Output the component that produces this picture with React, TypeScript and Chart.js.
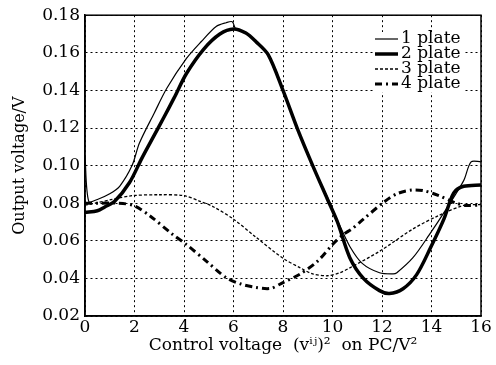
import React, { useEffect, useRef } from "react";
import { Chart, registerables } from "chart.js";

Chart.register(...registerables);

const FONT = "'DejaVu Serif', 'Liberation Serif', serif";

const seriesLabels = ["1 plate", "2 plate", "3 plate", "4 plate"];

const x1 = [0, 0.15, 0.5, 1.0, 1.4, 1.9, 2.2, 2.8, 3.3, 4.1, 4.7, 5.3, 5.7, 5.95, 6.1, 6.5, 6.9, 7.4, 8.0, 8.6, 9.2, 9.8, 10.3, 10.7, 11.2, 11.9, 12.45, 12.6, 13.25, 13.9, 14.6, 15.3, 15.6, 16];
const y1 = [0.105, 0.081, 0.082, 0.085, 0.089, 0.1, 0.112, 0.128, 0.141, 0.157, 0.166, 0.174, 0.176, 0.1765, 0.1725, 0.1705, 0.166, 0.159, 0.14, 0.119, 0.1, 0.083, 0.068, 0.057, 0.048, 0.043, 0.0424, 0.043, 0.051, 0.063, 0.077, 0.092, 0.102, 0.102];

const x2 = [0, 0.5, 0.8, 1.2, 1.8, 2.3, 2.75, 3.2, 3.6, 4.1, 4.8, 5.45, 6.0, 6.5, 6.9, 7.4, 8.0, 8.6, 9.2, 9.8, 10.2, 10.7, 11.25, 11.9, 12.3, 12.85, 13.4, 13.95, 14.5, 14.9, 15.3, 16];
const y2 = [0.075, 0.076, 0.078, 0.081, 0.091, 0.104, 0.115, 0.126, 0.136, 0.149, 0.162, 0.17, 0.1727, 0.1705, 0.166, 0.159, 0.14, 0.119, 0.1, 0.082, 0.07, 0.051, 0.04, 0.0335, 0.032, 0.0345, 0.042, 0.056, 0.0715, 0.0855, 0.089, 0.0897];

const x3 = [0, 0.4, 1.1, 1.9, 3.0, 4.0, 4.65, 5.2, 6.0, 6.9, 8.0, 8.7, 9.2, 9.8, 10.3, 10.7, 11.9, 13.25, 14.3, 15.3, 16];
const y3 = [0.079, 0.08, 0.082, 0.084, 0.0845, 0.084, 0.081, 0.078, 0.0715, 0.062, 0.0507, 0.0456, 0.0424, 0.0414, 0.043, 0.0456, 0.0544, 0.0663, 0.0735, 0.0788, 0.0793];

const x4 = [0, 0.5, 1.3, 1.95, 2.6, 3.56, 4.1, 4.9, 5.7, 6.3, 6.9, 7.5, 8.0, 8.7, 9.4, 10.0, 10.4, 10.8, 11.25, 12.05, 12.6, 13.2, 13.7, 14.3, 15.0, 15.4, 16];
const y4 = [0.08, 0.08, 0.08, 0.0788, 0.0735, 0.0632, 0.058, 0.0492, 0.0404, 0.037, 0.0352, 0.0347, 0.0378, 0.0424, 0.0492, 0.058, 0.063, 0.0665, 0.0715, 0.0803, 0.085, 0.087, 0.0866, 0.084, 0.08, 0.0788, 0.079];

const xTicks = [0, 2, 4, 6, 8, 10, 12, 14, 16];
const yTicks = [0.02, 0.04, 0.06, 0.08, 0.1, 0.12, 0.14, 0.16, 0.18];

const toPts = (xs: number[], ys: number[]) => xs.map((x, i) => ({ x, y: ys[i] }));

const styles = [
  { borderWidth: 1.2, borderDash: [] as number[] },
  { borderWidth: 3.5, borderDash: [] as number[] },
  { borderWidth: 1.3, borderDash: [3, 2] },
  { borderWidth: 3, borderDash: [7, 4, 2, 4] },
];

const framePlugin = {
  id: "frameAndLegend",
  afterDraw(chart: any) {
    const { ctx, chartArea } = chart;
    ctx.save();
    ctx.strokeStyle = "#000";
    ctx.lineWidth = 1.5;
    ctx.setLineDash([]);
    ctx.strokeRect(chartArea.left, chartArea.top, chartArea.right - chartArea.left, chartArea.bottom - chartArea.top);
    const lx0 = 375;
    const lx1 = 398;
    chart.data.datasets.forEach((ds: any, i: number) => {
      const yy = 39 + i * 15;
      ctx.fillStyle = "#fff";
      ctx.fillRect(lx0 - 2, yy - 7, 90, 15);
    });
    chart.data.datasets.forEach((ds: any, i: number) => {
      const yy = 39 + i * 15;
      ctx.beginPath();
      ctx.lineWidth = ds.borderWidth;
      ctx.setLineDash(ds.borderDash || []);
      ctx.strokeStyle = "#000";
      ctx.moveTo(lx0, yy);
      ctx.lineTo(lx1, yy);
      ctx.stroke();
      ctx.setLineDash([]);
      ctx.fillStyle = "#000";
      ctx.font = `17px ${FONT}`;
      ctx.textBaseline = "middle";
      ctx.textAlign = "left";
      ctx.fillText(ds.label, lx1 + 3, yy);
    });
    ctx.restore();
  },
};

export default function App() {
  const ref = useRef<HTMLCanvasElement>(null);
  useEffect(() => {
    const datasets = [toPts(x1, y1), toPts(x2, y2), toPts(x3, y3), toPts(x4, y4)].map((d, i) => ({
      label: seriesLabels[i],
      data: d,
      borderColor: "#000",
      backgroundColor: "#000",
      borderWidth: styles[i].borderWidth,
      borderDash: styles[i].borderDash,
      pointRadius: 0,
      tension: 0.3,
      fill: false,
    }));
    const chart = new Chart(ref.current!, {
      type: "line",
      data: { datasets },
      plugins: [framePlugin],
      options: {
        animation: false,
        responsive: false,
        layout: { padding: { top: 8, right: 15, left: 0, bottom: 0 } },
        plugins: { legend: { display: false }, tooltip: { enabled: false } },
        scales: {
          x: {
            type: "linear",
            min: 0,
            max: 16,
            afterFit: (s: any) => { s.height = 49; },
            afterBuildTicks: (s: any) => { s.ticks = xTicks.map((v) => ({ value: v })); },
            ticks: { color: "#000", font: { family: FONT, size: 17 }, padding: 1, maxRotation: 0 },
            grid: { color: "#000", lineWidth: 1, drawTicks: false },
            border: { display: true, color: "#000", width: 1.5, dash: [2, 3] },
            title: {
              display: true,
              text: "Control voltage  (vⁱʲ)²  on PC/V²",
              color: "#000",
              font: { family: FONT, size: 17 },
              padding: { top: 0, bottom: 9 },
            },
          },
          y: {
            type: "linear",
            min: 0.02,
            max: 0.18,
            afterFit: (s: any) => { s.width = 85; },
            afterBuildTicks: (s: any) => { s.ticks = yTicks.map((v) => ({ value: v })); },
            ticks: {
              color: "#000",
              font: { family: FONT, size: 17 },
              padding: 5,
              callback: (v: any) => Number(v).toFixed(2),
            },
            grid: { color: "#000", lineWidth: 1, drawTicks: false },
            border: { display: true, color: "#000", width: 1.5, dash: [2, 3] },
            title: {
              display: true,
              text: "Output voltage/V",
              color: "#000",
              font: { family: FONT, size: 16 },
              padding: { top: 10, bottom: 0 },
            },
          },
        },
      },
    });
    return () => chart.destroy();
  }, []);
  return (
    <div style={{ position: "absolute", left: 0, top: 0, width: 496, height: 365, background: "#fff" }}>
      <canvas ref={ref} width={496} height={365} />
    </div>
  );
}
